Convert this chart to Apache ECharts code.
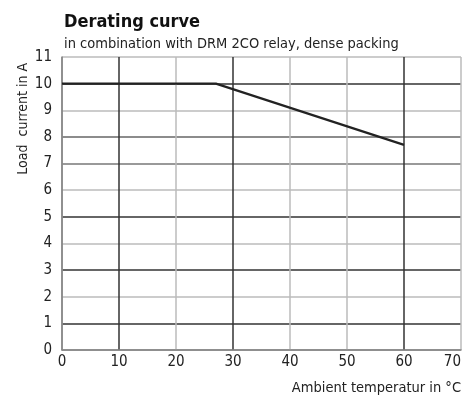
<!DOCTYPE html>
<html>
<head>
<meta charset="utf-8">
<script src="https://cdn.jsdelivr.net/npm/echarts@6/dist/echarts.min.js"></script>
<style>
  html, body { margin: 0; padding: 0; background: #fff; }
  #chart { width: 466px; height: 401px; }
</style>
</head>
<body>
<div id="chart"></div>
<script>
// derating curve data: ambient temperature (°C) -> load current (A)
const temperature = [0, 27, 60];
const loadCurrent = [10, 10, 7.7];

// grid line shades per tick (0..70 step 10, 0..11 step 1)
const xLineColors = ['#888', '#333', '#bbb', '#333', '#bbb', '#bbb', '#333', '#bbb'];
const yLineColors = ['#888', '#333', '#bbb', '#333', '#bbb', '#333', '#bbb', '#777', '#666', '#bbb', '#333', '#bbb'];

const font = '"Liberation Sans Narrow", "DejaVu Sans Condensed", sans-serif';

const myChart = echarts.init(document.getElementById('chart'));

const option = {
  backgroundColor: '#fff',
  animation: false,
  title: {
    text: 'Derating curve',
    subtext: 'in combination with DRM 2CO relay, dense packing',
    left: 59,
    top: 8,
    itemGap: 6,
    textStyle: { fontFamily: font, fontSize: 18, fontWeight: 'bold', color: '#111' },
    subtextStyle: { fontFamily: font, fontSize: 14.5, color: '#222' }
  },
  grid: { left: 62, right: 5, top: 57, bottom: 51, outerBoundsMode: 'none', containLabel: false },
  xAxis: {
    type: 'value',
    min: 0,
    max: 70,
    interval: 10,
    name: 'Ambient temperatur in °C',
    nameLocation: 'end',
    nameGap: 0,
    nameTextStyle: {
      fontFamily: font, fontSize: 14.5, color: '#222',
      align: 'right', verticalAlign: 'top', padding: [31, 0, 0, 0]
    },
    axisLine: { show: true, lineStyle: { color: '#888', width: 1.5 } },
    axisTick: { show: false },
    axisLabel: { fontFamily: font, fontSize: 15, color: '#222', margin: 5, alignMaxLabel: 'right' },
    splitLine: { show: true, lineStyle: { color: xLineColors, width: 1.5 } }
  },
  yAxis: {
    type: 'value',
    min: 0,
    max: 11,
    interval: 1,
    name: 'Load  current in A',
    nameLocation: 'end',
    nameRotate: 90,
    nameGap: -6,
    nameTextStyle: {
      fontFamily: font, fontSize: 14, color: '#222',
      align: 'right', verticalAlign: 'bottom', padding: [0, 0, 32, 0]
    },
    axisLine: { show: true, lineStyle: { color: '#888', width: 1.5 } },
    axisTick: { show: false },
    axisLabel: { fontFamily: font, fontSize: 15, color: '#222', margin: 10 },
    splitLine: { show: true, lineStyle: { color: yLineColors, width: 1.5 } }
  },
  series: [
    {
      type: 'line',
      data: temperature.map((t, i) => [t, loadCurrent[i]]),
      symbol: 'none',
      lineStyle: { color: '#222', width: 2.2 }
    }
  ]
};

myChart.setOption(option);
</script>
</body>
</html>
